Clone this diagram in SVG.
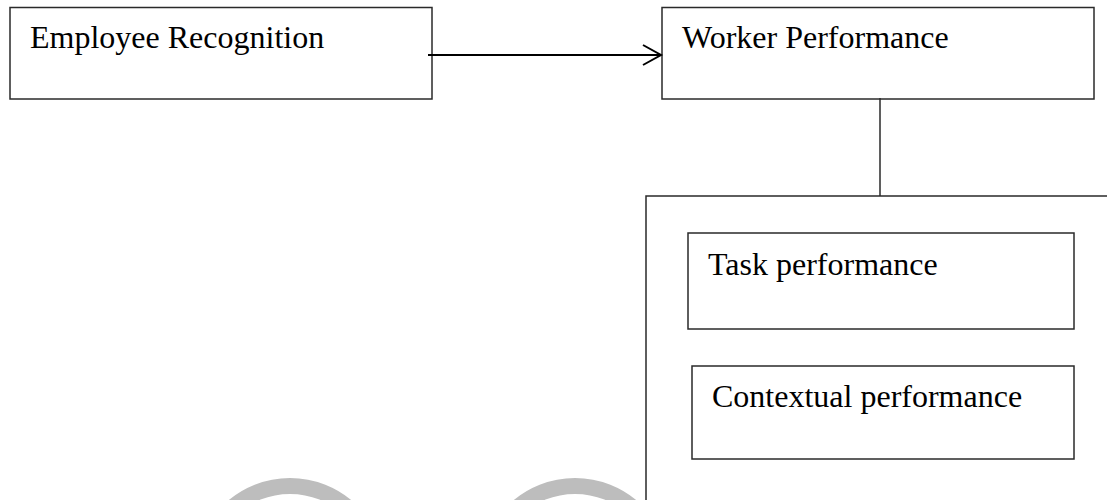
<svg xmlns="http://www.w3.org/2000/svg" width="1107" height="500" viewBox="0 0 1107 500">
<style>
.box{fill:none;stroke:#2a2a2a;stroke-width:1.5}
.lbl{font-family:"Liberation Serif","Times New Roman",serif;font-size:32px;fill:#000}
.conn{fill:none;stroke:#000;stroke-width:2}
.wm{fill:none;stroke:#bdbdbd;stroke-width:16}
</style>
<rect width="1107" height="500" fill="#fff"/>
<g id="watermark">
<circle class="wm" cx="290" cy="574" r="88"/>
<circle class="wm" cx="575" cy="574" r="88"/>
</g>
<g id="employee-recognition">
<rect class="box" x="10" y="7.5" width="422" height="91.5"/>
<text class="lbl" x="30" y="48">Employee Recognition</text>
</g>
<g id="worker-performance">
<rect class="box" x="662" y="7.5" width="432" height="91.5"/>
<text class="lbl" x="682" y="48">Worker Performance</text>
</g>
<g id="dimensions">
<rect class="box" x="646" y="196" width="520" height="400"/>
</g>
<g id="task-performance">
<rect class="box" x="688" y="233" width="386" height="96"/>
<text class="lbl" x="708" y="275">Task performance</text>
</g>
<g id="contextual-performance">
<rect class="box" x="692" y="366" width="382" height="93"/>
<text class="lbl" x="712" y="407">Contextual performance</text>
</g>
<g id="connectors">
<line class="conn" x1="428" y1="55" x2="661" y2="55"/>
<polyline class="conn" points="643,45 661,55 643,65"/>
<line class="box" x1="880" y1="98" x2="880" y2="196"/>
</g>
</svg>
